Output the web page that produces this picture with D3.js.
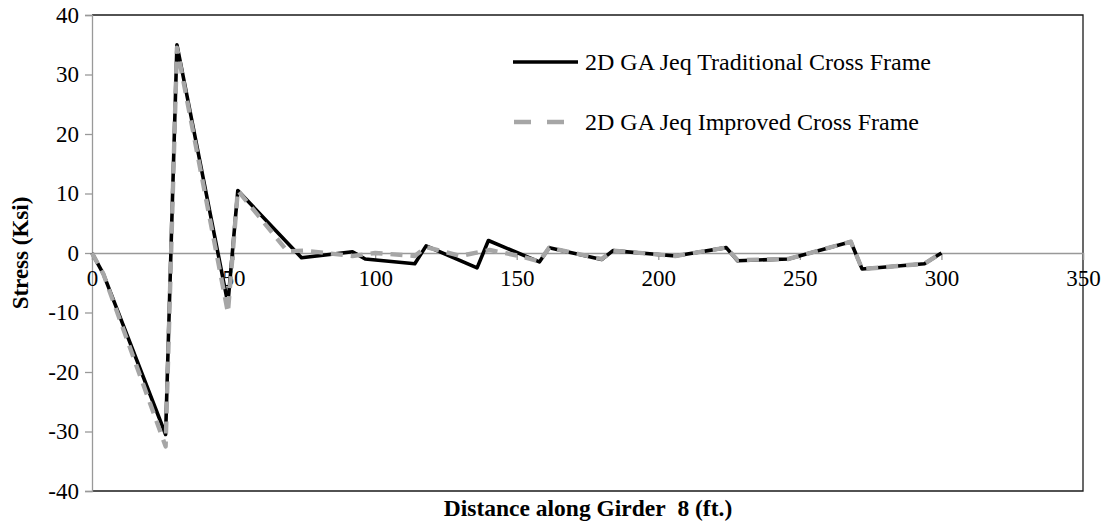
<!DOCTYPE html>
<html>
<head>
<meta charset="utf-8">
<script src="https://cdn.jsdelivr.net/npm/d3@7"></script>
<style>
  html, body { margin: 0; padding: 0; background: #fff; }
  svg { display: block; }
  svg text { font-family: 'Liberation Serif', 'Times New Roman', serif !important; fill: #000; }
</style>
</head>
<body>
<svg id="chart" width="1104" height="525"></svg>
<script>
// Stress along girder 8 for two cross-frame layouts
const distTraditional = [0, 4, 26, 30, 48, 51.5, 74, 92, 96.5, 114, 118, 136, 140, 158, 161.5, 180, 184, 206, 224, 228, 246, 268, 272, 294, 300];
const stressTraditional = [0, -3.5, -30.5, 35, -8.5, 10.5, -0.8, 0.2, -1.0, -1.8, 1.2, -2.5, 2.1, -1.5, 0.9, -1.1, 0.4, -0.5, 0.9, -1.3, -1.0, 1.9, -2.7, -1.8, 0];

const distImproved = [0, 4, 26, 30, 48, 51.5, 69, 75, 92, 100, 114, 118, 130, 140.5, 151, 158, 161.5, 180, 184, 206, 224, 228, 246, 268, 272, 294, 300];
const stressImproved = [0, -3.5, -32.5, 34.5, -10, 10.5, 0.3, 0.4, -0.5, 0, -0.5, 1.0, -0.5, 0.5, -0.5, -1.4, 0.9, -1.0, 0.4, -0.5, 0.9, -1.2, -1.0, 1.9, -2.7, -1.8, 0];

const seriesNames = ["2D GA Jeq Traditional Cross Frame", "2D GA Jeq Improved Cross Frame"];
const xTicks = [0, 50, 100, 150, 200, 250, 300, 350];
const yTicks = [-40, -30, -20, -10, 0, 10, 20, 30, 40];
const xTitle = "Distance along Girder\u00a0\u00a08 (ft.)";
const yTitle = "Stress (Ksi)";

const SERIF = "'Liberation Serif', 'Times New Roman', serif";

const svg = d3.select("#chart");
const plot = { left: 92, right: 1083, top: 15, bottom: 491 };

const x = d3.scaleLinear().domain([0, 350]).range([plot.left, plot.right]);
const y = d3.scaleLinear().domain([-40, 40]).range([plot.bottom, plot.top]);

// Plot-area frame (top, right, bottom)
svg.append("path")
  .attr("d", `M${plot.left},${plot.top}H${plot.right}V${plot.bottom}H${plot.left}`)
  .attr("fill", "none")
  .attr("stroke", "#1a1a1a")
  .attr("stroke-width", 1.3);

// Plain hyphen-minus for negative tick labels
const fmt = d => String(d);

// Y axis (gray, ticks outward)
const yAxis = d3.axisLeft(y).tickValues(yTicks).tickSize(7).tickPadding(6).tickFormat(fmt);
const gy = svg.append("g").attr("transform", `translate(${plot.left},0)`).call(yAxis)
  .attr("font-family", SERIF).attr("font-size", 23);
gy.select(".domain").attr("stroke", "#999").attr("stroke-width", 1.3);
gy.selectAll(".tick line").attr("stroke", "#999").attr("stroke-width", 1.3);
gy.selectAll(".tick text").attr("fill", "#000");

// X axis drawn along the zero line
const xAxis = d3.axisBottom(x).tickValues(xTicks).tickSize(7).tickPadding(10).tickFormat(fmt);
const gx = svg.append("g").attr("transform", `translate(0,${y(0)})`).call(xAxis)
  .attr("font-family", SERIF).attr("font-size", 23);
gx.select(".domain").attr("stroke", "#999").attr("stroke-width", 1.3);
gx.selectAll(".tick line").attr("stroke", "#999").attr("stroke-width", 1.3);
gx.selectAll(".tick text").attr("fill", "#000");

const line = d3.line().x(d => x(d[0])).y(d => y(d[1])).curve(d3.curveLinear);

const tradPts = distTraditional.map((d, i) => [d, stressTraditional[i]]);
const imprPts = distImproved.map((d, i) => [d, stressImproved[i]]);

svg.append("path")
  .datum(tradPts)
  .attr("d", line)
  .attr("fill", "none")
  .attr("stroke", "#000")
  .attr("stroke-width", 3.6)
  .attr("stroke-linejoin", "round");

svg.append("path")
  .datum(imprPts)
  .attr("d", line)
  .attr("fill", "none")
  .attr("stroke", "#a6a6a6")
  .attr("stroke-width", 4.4)
  .attr("stroke-dasharray", "12,8")
  .attr("stroke-linejoin", "round");

// Legend
const legend = svg.append("g").attr("font-family", SERIF).attr("font-size", 24);
legend.append("line")
  .attr("x1", 513).attr("x2", 578).attr("y1", 62).attr("y2", 62)
  .attr("stroke", "#000").attr("stroke-width", 3.6);
legend.append("text")
  .attr("x", 585).attr("y", 70)
  .text(seriesNames[0]);
legend.append("line")
  .attr("x1", 514).attr("x2", 578).attr("y1", 122).attr("y2", 122)
  .attr("stroke", "#a6a6a6").attr("stroke-width", 4.4)
  .attr("stroke-dasharray", "17,16");
legend.append("text")
  .attr("x", 585).attr("y", 130)
  .text(seriesNames[1]);

// Axis titles
svg.append("text")
  .attr("x", 588).attr("y", 516)
  .attr("text-anchor", "middle")
  .attr("font-family", SERIF)
  .attr("font-size", 23.5)
  .attr("font-weight", "bold")
  .text(xTitle);

svg.append("text")
  .attr("transform", `translate(28,${y(0)}) rotate(-90)`)
  .attr("text-anchor", "middle")
  .attr("font-family", SERIF)
  .attr("font-size", 23)
  .attr("font-weight", "bold")
  .text(yTitle);
</script>
</body>
</html>
